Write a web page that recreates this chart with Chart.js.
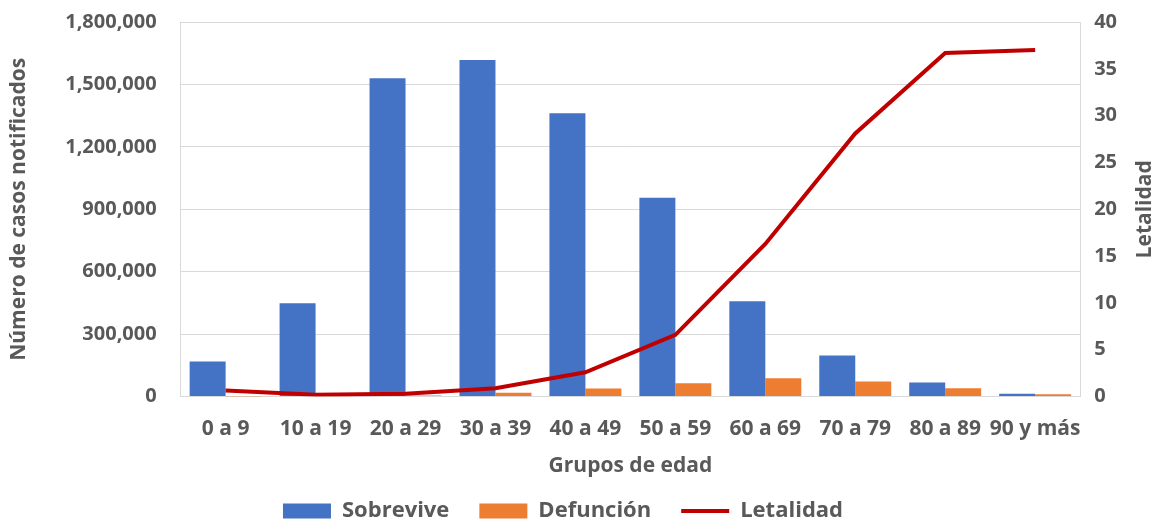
<!DOCTYPE html>
<html>
<head>
<meta charset="utf-8">
<script src="https://cdn.jsdelivr.net/npm/chart.js@4"></script>
<style>
  html, body { margin: 0; padding: 0; background: #fff; }
  #wrap { width: 1159px; height: 519px; }
</style>
</head>
<body>
<div id="wrap"><canvas id="chart"></canvas></div>
<script>
const ageGroups = ['0 a 9', '10 a 19', '20 a 29', '30 a 39', '40 a 49', '50 a 59', '60 a 69', '70 a 79', '80 a 89', '90 y más'];
const survived = [169000, 449000, 1530000, 1617000, 1361000, 956000, 458000, 198000, 68000, 14000];
const deaths = [1000, 1500, 5000, 19000, 39000, 64000, 88000, 72000, 40000, 11000];
const lethality = [0.64, 0.2, 0.3, 0.9, 2.6, 6.6, 16.3, 28.1, 36.7, 37.0];

const grey = '#595959';
const tickFont = { family: 'Open Sans', size: 20, weight: 'bold' };
const xTickFont = { family: 'Open Sans', size: 21, weight: 'bold' };
const titleFont = { family: 'Open Sans', size: 21, weight: 'bold' };
const legendFont = { family: 'Open Sans', size: 22, weight: 'bold' };

// right axis title reads bottom-to-top, so draw it ourselves
const rightTitle = {
  id: 'rightTitle',
  afterDraw(chart) {
    const ctx = chart.ctx;
    const area = chart.chartArea;
    ctx.save();
    ctx.translate(1145, (area.top + area.bottom) / 2);
    ctx.rotate(-Math.PI / 2);
    ctx.font = 'bold 21px "Open Sans"';
    ctx.fillStyle = grey;
    ctx.textAlign = 'center';
    ctx.textBaseline = 'middle';
    ctx.fillText('Letalidad', 0, 0);
    ctx.restore();
  }
};

document.addEventListener('DOMContentLoaded', function() {
  new Chart(document.getElementById('chart'), {
    data: {
      labels: ageGroups,
      datasets: [{
        type: 'line',
        label: 'Letalidad',
        data: lethality,
        borderColor: '#C00000',
        backgroundColor: '#C00000',
        borderWidth: 4,
        pointRadius: 0,
        pointStyle: 'line',
        tension: 0,
        yAxisID: 'y2',
        order: 0
      }, {
        type: 'bar',
        label: 'Sobrevive',
        data: survived,
        backgroundColor: '#4472C4',
        borderColor: '#4472C4',
        pointStyle: 'rect',
        yAxisID: 'y',
        order: 1
      }, {
        type: 'bar',
        label: 'Defunción',
        data: deaths,
        backgroundColor: '#ED7D31',
        borderColor: '#ED7D31',
        pointStyle: 'rect',
        yAxisID: 'y',
        order: 1
      }]
    },
    options: {
      responsive: true,
      maintainAspectRatio: false,
      animation: false,
      categoryPercentage: 0.8,
      barPercentage: 1.0,
      layout: { padding: { top: 0, right: 39, left: 6, bottom: 0 } },
      plugins: {
        legend: {
          position: 'bottom',
          maxHeight: 49,
          labels: {
            font: legendFont,
            color: grey,
            usePointStyle: true,
            pointStyleWidth: 48,
            boxHeight: 15,
            padding: 30,
            sort: function(a, b) {
              const order = ['Sobrevive', 'Defunción', 'Letalidad'];
              return order.indexOf(a.text) - order.indexOf(b.text);
            }
          }
        },
        tooltip: { enabled: false }
      },
      scales: {
        x: {
          grid: { display: false, drawTicks: false },
          border: { color: '#d9d9d9' },
          ticks: { font: xTickFont, color: grey, maxRotation: 0, autoSkip: false, padding: 20 },
          title: { display: true, text: 'Grupos de edad', font: titleFont, color: grey, padding: { top: -8, bottom: -9 } }
        },
        y: {
          position: 'left',
          min: 0,
          max: 1800000,
          ticks: {
            stepSize: 300000,
            font: tickFont,
            color: grey,
            padding: 10,
            callback: v => v.toLocaleString('en-US')
          },
          grid: { color: '#d9d9d9', drawTicks: true, tickLength: 14, tickColor: 'rgba(0,0,0,0)' },
          border: { color: '#d9d9d9' },
          title: { display: true, text: 'Número de casos notificados', font: titleFont, color: grey, padding: { top: 0, bottom: 24 } }
        },
        y2: {
          position: 'right',
          min: 0,
          max: 40,
          ticks: { stepSize: 5, font: tickFont, color: grey, padding: 3 },
          grid: { display: false, drawTicks: true, tickLength: 11, tickColor: 'rgba(0,0,0,0)' },
          border: { color: '#d9d9d9' }
        }
      }
    },
    plugins: [rightTitle]
  });
});
</script>
</body>
</html>
